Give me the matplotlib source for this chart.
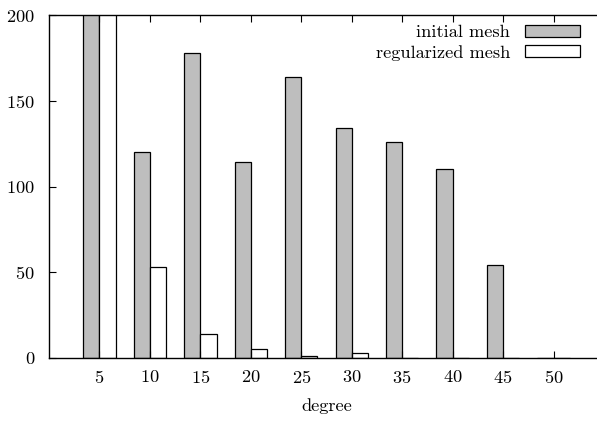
import numpy as np
import matplotlib.pyplot as plt

plt.rcParams['font.family'] = ['cmr10', 'DejaVu Serif']
plt.rcParams['axes.formatter.use_mathtext'] = True

degree = [5, 10, 15, 20, 25, 30, 35, 40, 45, 50]
initial_mesh = [250, 120, 178, 114, 164, 134, 126, 110, 54, 0]
regularized_mesh = [250, 53, 14, 5, 1, 3, 0, 0, 0, 0]

fig = plt.figure(figsize=(5.97, 4.22), dpi=100)
ax = fig.add_axes([49/597, 64/422, 555/597, 343/422])

x = np.array(degree)
w = 1.6
ax.bar(x - w, initial_mesh, width=w, align='edge', color='#bebebe',
       edgecolor='black', linewidth=0.9, label='initial mesh')
ax.bar(x, regularized_mesh, width=w, align='edge', color='white',
       edgecolor='black', linewidth=0.9, label='regularized mesh')

fs = 13.2
ax.set_xlim(0, 55)
ax.set_ylim(0, 200)
ax.set_xticks(degree)
ax.set_yticks([0, 50, 100, 150, 200])
ax.spines['right'].set_visible(False)
for s in ['left', 'bottom', 'top']:
    ax.spines[s].set_linewidth(1.0)
ax.tick_params(axis='x', direction='in', length=5, width=0.8, top=True,
               labelsize=fs, pad=8)
ax.tick_params(axis='y', direction='in', length=5, width=0.8,
               labelsize=fs, pad=10)
ax.set_xlabel('degree', fontsize=fs, labelpad=9)

leg = ax.legend(loc='upper right', bbox_to_anchor=(580/597, 1 - 25/422),
                bbox_transform=fig.transFigure, frameon=False, markerfirst=False,
                fontsize=fs, handlelength=3.0, handleheight=0.6,
                labelspacing=0.25, borderpad=0, borderaxespad=0,
                handletextpad=0.8)

fig.savefig('out.png', dpi=100)
